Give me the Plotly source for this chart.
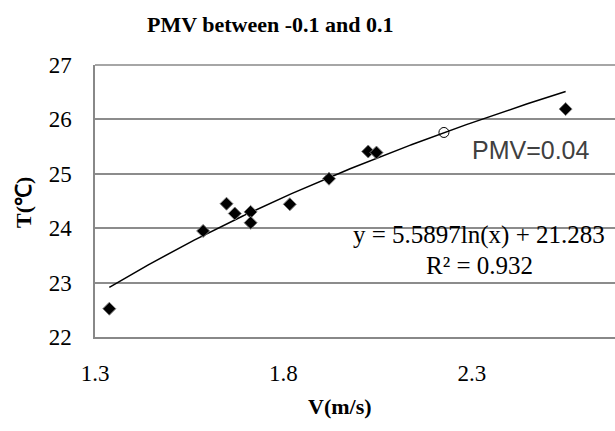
import numpy as np
import plotly.graph_objects as go

# Data
v_data = [1.338, 1.587, 1.649, 1.671, 1.713, 1.713, 1.817, 1.921, 2.025, 2.047, 2.549]
t_data = [22.52, 23.95, 24.45, 24.27, 24.30, 24.10, 24.44, 24.91, 25.41, 25.39, 26.19]

pmv_point_v = [2.226]
pmv_point_t = [25.76]
pmv_label = "PMV=0.04"

# Logarithmic trendline coefficients (as printed on chart)
fit_a = 5.5897
fit_b = 21.283
fit_r2 = 0.932

x_ticks = [1.3, 1.8, 2.3]
y_ticks = [22, 23, 24, 25, 26, 27]

trend_x = np.linspace(min(v_data), max(v_data), 200)
trend_y = fit_a * np.log(trend_x) + fit_b

serif = "Liberation Serif, Times New Roman, serif"
sans = "Liberation Sans, Arial, sans-serif"

fig = go.Figure()
fig.add_trace(go.Scatter(
    x=trend_x, y=trend_y, mode="lines",
    line=dict(color="black", width=1.5), hoverinfo="skip", showlegend=False))
fig.add_trace(go.Scatter(
    x=v_data, y=t_data, mode="markers",
    marker=dict(symbol="diamond", size=10, color="black",
                line=dict(color="#7f7f7f", width=1)),
    showlegend=False))
fig.add_trace(go.Scatter(
    x=pmv_point_v, y=pmv_point_t, mode="markers",
    marker=dict(symbol="circle-open", size=10, color="black",
                line=dict(color="black", width=1)),
    showlegend=False))

W, H = 615, 431
fig.update_layout(
    width=W, height=H,
    margin=dict(l=95, r=0, t=65, b=94),
    paper_bgcolor="white", plot_bgcolor="white",
    font=dict(family=serif, size=23, color="black"),
    xaxis=dict(range=[1.3, 2.68], tickvals=x_ticks, ticktext=[str(t) for t in x_ticks],
               showgrid=False, zeroline=False, showline=True, linecolor="#888888",
               linewidth=1.5, mirror=False, ticks="", ticklabelstandoff=15,
               tickfont=dict(family=serif, size=23, color="black")),
    yaxis=dict(range=[22, 27], tickvals=y_ticks, showgrid=True, gridcolor="#8c8c8c",
               gridwidth=1.5, zeroline=False, showline=True, linecolor="#888888",
               linewidth=1.5, ticks="", ticklabelstandoff=17,
               tickfont=dict(family=serif, size=23, color="black")),
    annotations=[
        dict(text="<b>PMV between -0.1 and 0.1</b>", xref="paper", yref="paper",
             x=(270 - 95) / 520, y=1 + (65 - 24) / 272, xanchor="center", yanchor="middle",
             showarrow=False, font=dict(family=serif, size=22, color="black")),
        dict(text="<b>V(m/s)</b>", xref="paper", yref="paper",
             x=(340 - 95) / 520, y=-(406 - 337) / 272, xanchor="center", yanchor="middle",
             showarrow=False, font=dict(family=serif, size=22, color="black")),
        dict(text="<b>T(℃)</b>", xref="paper", yref="paper", textangle=-90,
             x=-(95 - 23) / 520, y=(337 - 203) / 272, xanchor="center", yanchor="middle",
             showarrow=False, font=dict(family=serif, size=22, color="black")),
        dict(text=pmv_label, xref="paper", yref="paper",
             x=(470 - 95) / 520, y=(337 - 150) / 272, xanchor="left", yanchor="middle",
             showarrow=False, font=dict(family=sans, size=25, color="#404040")),
        dict(text=f"y = {fit_a}ln(x) + {fit_b}", xref="paper", yref="paper",
             x=(479 - 95) / 520, y=(337 - 235) / 272, xanchor="center", yanchor="middle",
             showarrow=False, font=dict(family=serif, size=25, color="black")),
        dict(text=f"R² = {fit_r2}", xref="paper", yref="paper",
             x=(479 - 95) / 520, y=(337 - 265) / 272, xanchor="center", yanchor="middle",
             showarrow=False, font=dict(family=serif, size=25, color="black")),
    ],
)
fig.add_shape(type="line", xref="paper", yref="paper", x0=0, x1=1, y0=1, y1=1,
              line=dict(color="#888888", width=1.5))

fig.write_html("out.html", config={"displayModeBar": False},
               post_script="document.body.style.margin='0';")
